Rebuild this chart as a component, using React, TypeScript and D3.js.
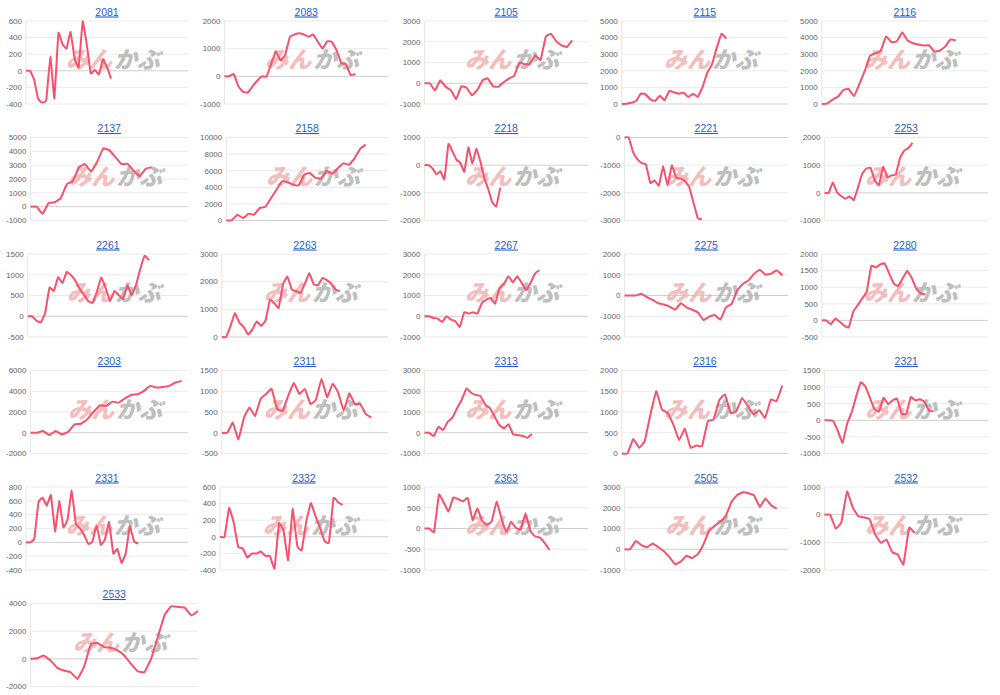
import React from "react";
import * as d3 from "d3";

const codes = ["2081","2083","2105","2115","2116","2137","2158","2218","2221","2253","2261","2263","2267","2275","2280","2303","2311","2313","2316","2321","2331","2332","2363","2505","2532","2533"];

const s2081 = [0,0,-106,-340,-383,-353,170,-332,455,319,268,468,149,43,596,319,-30,9,-43,136,43,-94];
const s2083 = [0,0,85,-366,-561,-585,-366,-159,0,-12,451,902,573,780,1427,1512,1561,1512,1427,1512,1244,1000,1268,1244,939,475,439,49,85];
const s2105 = [0,0,-346,142,-173,-331,-772,-142,-220,-583,-331,142,236,-142,-173,47,220,362,992,913,929,1354,1118,2252,2378,2016,1827,1748,2063];
const s2115 = [0,20,80,181,623,582,281,181,502,221,783,703,623,683,422,623,422,1024,1888,2390,3394,4237,3936];
const s2116 = [0,20,267,432,843,905,473,1193,1975,2901,3045,3210,4074,3724,3786,4321,3827,3663,3580,3519,3539,3169,3210,3457,3889,3827];
const s2137 = [0,0,-517,271,320,616,1626,1847,2857,3079,2537,3227,4212,4089,3596,3079,3103,2611,2192,2734,2857];
const s2158 = [0,41,700,288,823,700,1523,1646,2675,3704,4733,4609,4321,4239,5556,5720,5144,5062,5967,5638,6296,6914,6708,7490,8642,9136];
const s2218 = [0,0,-119,-333,-214,-512,762,500,202,83,-238,643,48,595,143,-452,-869,-1345,-1488,-810];
const s2221 = [0,0,-530,-782,-921,-984,-1640,-1551,-1740,-1034,-1740,-1009,-1450,-1488,-1576,-1766,-2333,-2900,-2963];
const s2253 = [0,0,384,12,-112,-211,-136,-260,198,694,880,905,446,285,942,570,632,657,1252,1524,1623,1809];
const s2261 = [0,0,-107,-148,74,691,609,938,798,1070,988,856,658,510,362,321,609,938,675,362,609,510,412,741,510,757,1152,1457,1350];
const s2263 = [0,0,402,866,527,364,88,276,565,402,590,1343,1217,1054,1908,2184,1719,1656,1593,1932,2309,1908,1870,2133,2058,1932,1719,1656];
const s2267 = [0,0,-80,-112,-273,0,-160,-241,-514,193,128,193,128,642,803,883,610,1364,1573,1926,1637,1926,1605,1252,1605,2055,2215];
const s2275 = [0,0,0,81,-81,-211,-372,-437,-534,-680,-372,-567,-680,-810,-1182,-1020,-939,-1166,-567,-405,243,567,729,1053,1247,1003,1053,1215,972];
const s2280 = [0,0,-120,60,-40,-160,-211,261,461,662,863,1635,1595,1685,1715,1414,1113,1033,1264,1494,1284,963,813,783];
const s2303 = [0,0,161,-226,161,-161,97,806,871,1290,2000,2645,2581,3000,2903,3323,3645,3710,4032,4516,4355,4419,4516,4839,5000];
const s2311 = [0,0,244,-163,366,610,407,813,935,1057,569,528,894,1203,935,1057,691,797,1301,854,1179,976,528,951,691,691,447,366];
const s2313 = [0,0,-163,294,131,539,735,1193,1601,2141,1928,1814,1765,1356,1193,784,376,212,408,-82,-114,-147,-245,-65];
const s2316 = [0,0,353,137,297,940,1502,1060,980,699,321,594,137,193,177,779,819,1285,1422,980,1020,1341,1140,940,1044,859,1301,1261,1639];
const s2321 = [0,0,-29,-340,-680,-97,243,728,1146,1019,680,340,262,680,485,602,650,194,194,699,602,631,563,291,272];
const s2331 = [0,0,56,581,646,530,682,157,596,217,328,747,268,202,106,-25,15,242,-35,40,293,-162,-96,-298,-162,227,15,-20];
const s2332 = [0,0,348,174,-121,-138,-251,-202,-202,-178,-231,-231,-381,162,73,-283,336,-109,-162,186,405,255,113,-49,-69,466,417,385];
const s2363 = [0,0,-82,816,629,408,751,710,653,735,204,490,180,82,180,653,245,-82,163,16,-24,367,-57,-188,-220,-351,-514];
const s2505 = [0,0,395,197,99,280,99,-99,-395,-724,-592,-312,-428,-230,230,888,1135,1332,1628,2286,2615,2747,2697,2582,2039,2451,2122,1957];
const s2532 = [0,0,-504,-276,840,264,-60,-96,-156,-720,-1020,-900,-1356,-1440,-1800,-480,-660];
const s2533 = [0,48,242,-121,-654,-847,-969,-1453,-557,1041,1138,847,799,605,242,-363,-896,-969,0,1574,3148,3801,3753,3705,3148,3462];

const series = [s2081,s2083,s2105,s2115,s2116,s2137,s2158,s2218,s2221,s2253,s2261,s2263,s2267,s2275,s2280,s2303,s2311,s2313,s2316,s2321,s2331,s2332,s2363,s2505,s2532,s2533];

// number of x-axis category slots (dates) per chart
const slots = [41,36,32,36,32,27,30,42,39,40,38,39,38,30,38,26,31,36,30,37,40,38,35,30,30,26];

const yMins = [-400,-1000,-1000,0,0,-1000,0,-2000,-3000,-1000,-500,0,-1000,-2000,-500,-2000,-500,-1000,0,-1000,-400,-400,-1000,-1000,-2000,-2000];
const yMaxs = [600,2000,3000,5000,5000,5000,10000,1000,0,2000,1500,3000,3000,2000,2000,6000,1500,3000,2000,1500,800,600,1000,3000,1000,4000];
const ySteps = [200,1000,1000,1000,1000,1000,2000,1000,1000,1000,500,1000,1000,1000,500,2000,500,1000,500,500,200,200,500,1000,1000,2000];

const LINE = "#f9506b";

function textW(s: string, size: number) {
  let w = 0;
  for (const ch of s) w += ch === "-" ? 0.333 : 0.556;
  return w * size;
}

function Panel({ idx }: { idx: number }) {
  const col = idx % 5;
  const row = Math.floor(idx / 5);
  const data = series[idx];
  const ticks = d3.range(yMins[idx], yMaxs[idx] + ySteps[idx] / 2, ySteps[idx]);
  const labelSize = 8;
  const maxW = d3.max(ticks, (t) => textW(String(t), labelSize)) || 0;
  const colLeft = col * 200;
  const labelLeft = col === 0 ? 5 : colLeft - 1;
  const left = labelLeft + maxW + 5;
  const right = row === 5 ? colLeft + 198 : colLeft + 188;
  const top = 21 + row * 116.5;
  const bottom = top + 83;
  const x = d3.scaleLinear().domain([0, slots[idx] - 1]).range([left, right]);
  const y = d3.scaleLinear().domain([yMins[idx], yMaxs[idx]]).range([bottom, top]);
  const line = d3
    .line<number>()
    .x((_, i) => x(i))
    .y((d) => y(d))
    .curve(d3.curveCardinal.tension(0.75));
  const cx = (left + right) / 2;
  const wmBase = top + 47;
  return (
    <g>
      <text
        x={cx}
        y={top - 5.5}
        textAnchor="middle"
        fontFamily="Liberation Sans, Arial, sans-serif"
        fontSize={10.5}
        fill="#1f5fcf"
        textDecoration="underline"
      >
        {codes[idx]}
      </text>
      {ticks.map((t) => (
        <g key={t}>
          <line
            x1={left}
            x2={right}
            y1={y(t)}
            y2={y(t)}
            stroke={t === 0 ? "#cfcfcf" : "#ebebeb"}
            strokeWidth={1}
          />
          <text
            x={left - 4}
            y={y(t)}
            dy="0.35em"
            textAnchor="end"
            fontFamily="Liberation Sans, Arial, sans-serif"
            fontSize={labelSize}
            fill="#666"
          >
            {t}
          </text>
        </g>
      ))}
      <line x1={left} x2={left} y1={top} y2={bottom} stroke="#e6e6e6" strokeWidth={1} />
      <g transform={`translate(${cx + 6},${wmBase}) skewX(-14)`} opacity={0.85}>
        <text
          x={-1}
          y={0}
          textAnchor="end"
          fontFamily="Noto Sans CJK JP, sans-serif"
          fontWeight={900}
          fontSize={23}
          fill="#f0b3b3"
        >
          みん
        </text>
        <text
          x={1}
          y={0}
          textAnchor="start"
          fontFamily="Noto Sans CJK JP, sans-serif"
          fontWeight={900}
          fontSize={23}
          fill="#b4b4b4"
        >
          かぶ
        </text>
      </g>
      <path d={line(data) || ""} fill="none" stroke={LINE} strokeWidth={2} strokeLinejoin="round" />
    </g>
  );
}

export default function App() {
  return (
    <svg
      width={1000}
      height={695}
      style={{ position: "absolute", left: 0, top: 0, background: "#fff" }}
    >
      <rect width={1000} height={695} fill="#fff" />
      {codes.map((_, i) => (
        <Panel key={i} idx={i} />
      ))}
    </svg>
  );
}
